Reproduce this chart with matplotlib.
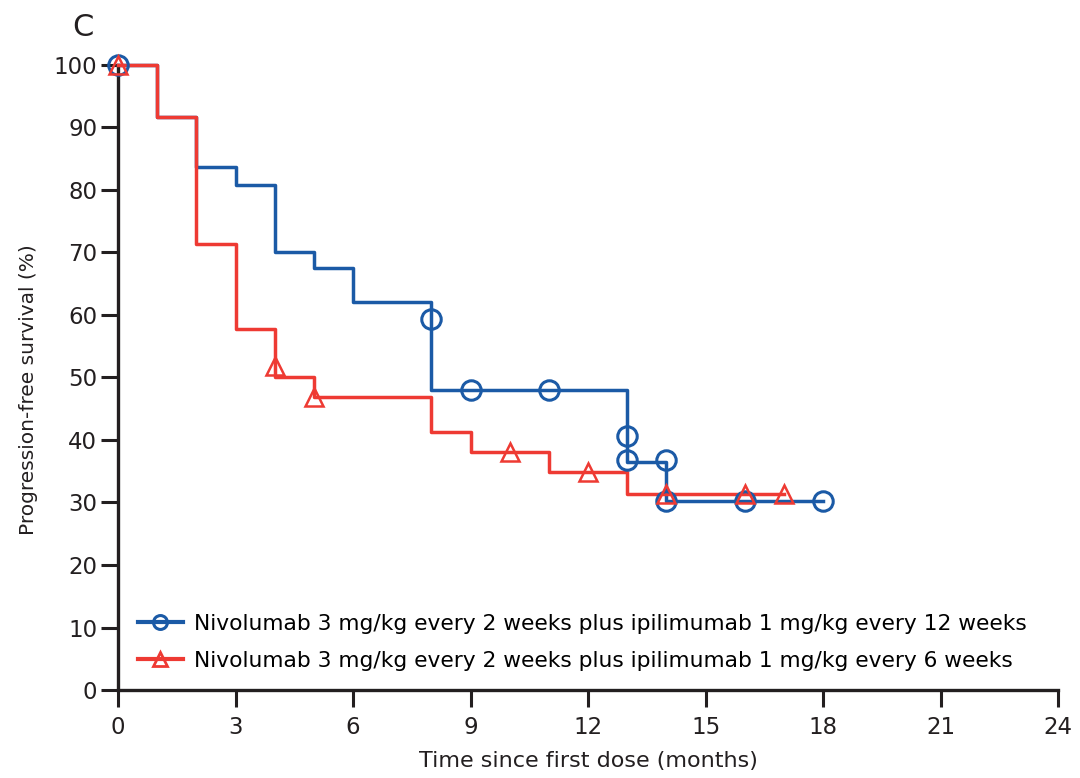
import matplotlib.pyplot as plt
from matplotlib.lines import Line2D

# Kaplan-Meier steps
blue_t = [0, 1, 2, 3, 4, 5, 6, 8, 13, 14, 18]
blue_s = [100, 91.7, 83.6, 80.8, 70.0, 67.5, 62.0, 48.0, 36.4, 30.3, 30.3]
blue_cens_t = [0, 8, 9, 11, 13, 13, 14, 14, 16, 18]
blue_cens_s = [100, 59.4, 48.0, 48.0, 40.6, 36.8, 36.8, 30.3, 30.3, 30.3]

red_t = [0, 1, 2, 3, 4, 5, 8, 9, 11, 13, 17]
red_s = [100, 91.7, 71.3, 57.8, 50.0, 46.9, 41.2, 38.1, 34.9, 31.4, 31.4]
red_cens_t = [0, 4, 5, 10, 12, 14, 16, 17]
red_cens_s = [100, 51.8, 46.9, 38.0, 34.8, 31.4, 31.4, 31.4]

blue_label = "Nivolumab 3 mg/kg every 2 weeks plus ipilimumab 1 mg/kg every 12 weeks"
red_label = "Nivolumab 3 mg/kg every 2 weeks plus ipilimumab 1 mg/kg every 6 weeks"

xticks = [0, 3, 6, 9, 12, 15, 18, 21, 24]
yticks = [0, 10, 20, 30, 40, 50, 60, 70, 80, 90, 100]

BLUE = '#1b5aa6'
RED = '#ee3a33'
DARK = '#231f20'

plt.rcParams.update({'font.family': 'DejaVu Sans'})
fig = plt.figure(figsize=(10.8, 7.78), dpi=100)
ax = fig.add_axes([0.1093, 0.1131, 0.8704, 0.8034])

ax.plot(blue_t, blue_s, drawstyle='steps-post', color=BLUE, lw=2.5, clip_on=False, zorder=2)
ax.plot(red_t, red_s, drawstyle='steps-post', color=RED, lw=2.5, clip_on=False, zorder=3)
ax.plot(blue_cens_t, blue_cens_s, 'o', ms=14, mfc='none', mec=BLUE, mew=2.2, clip_on=False, zorder=4)
ax.plot(red_cens_t, red_cens_s, '^', ms=13, mfc='none', mec=RED, mew=1.8, clip_on=False, zorder=5)

# legend proxies
hb = Line2D([], [], marker='o', color=BLUE, lw=3, ms=10, mfc='none', mew=2.2)
hr = Line2D([], [], marker='^', color=RED, lw=3, ms=10, mfc='none', mew=2)
ax.legend([hb, hr], [blue_label, red_label], loc='center left', bbox_to_anchor=(0.0213, 0.076),
          frameon=False, fontsize=15.7, handlelength=2.05, handletextpad=0.5,
          labelspacing=0.78, borderpad=0, borderaxespad=0)

ax.set_xlim(0, 24)
ax.set_ylim(0, 100)
ax.set_xticks(xticks)
ax.set_yticks(yticks)
ax.tick_params(axis='both', direction='out', length=12, width=2.2, labelsize=16.5,
               color=DARK, labelcolor=DARK)
ax.tick_params(axis='x', pad=7)
ax.tick_params(axis='y', pad=3)
for side in ['top', 'right']:
    ax.spines[side].set_visible(False)
for side in ['left', 'bottom']:
    ax.spines[side].set_linewidth(2.4)
    ax.spines[side].set_color(DARK)

ax.set_xlabel('Time since first dose (months)', fontsize=16, labelpad=8, color=DARK)
ax.set_ylabel('Progression-free survival (%)', fontsize=14.5, color=DARK)
ax.yaxis.set_label_coords(-0.085, 0.48)

fig.text(0.067, 0.965, 'C', fontsize=22, ha='left', va='center', color=DARK)

fig.savefig('out.png', dpi=100)
